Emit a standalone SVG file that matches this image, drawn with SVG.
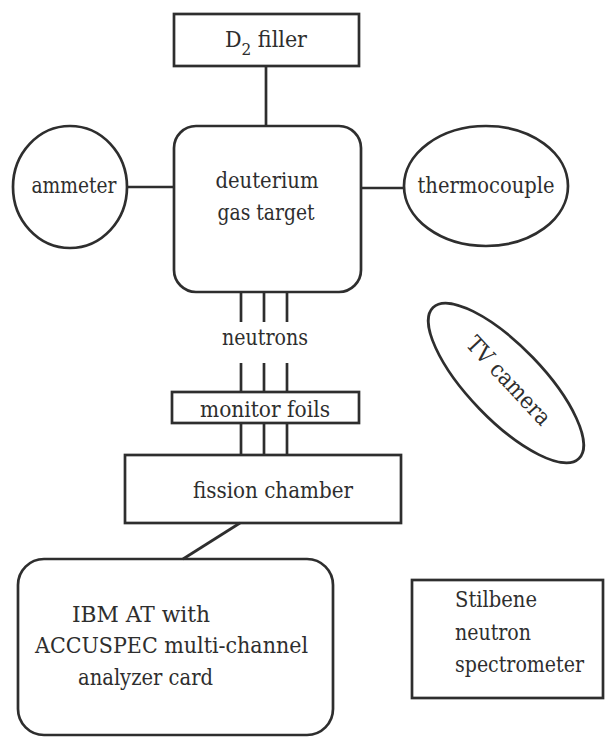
<svg xmlns="http://www.w3.org/2000/svg" width="606" height="738" viewBox="0 0 606 738">
<style>
.s{fill:none;stroke:#2e2e2e;stroke-width:2.7}
.t{font-family:'DejaVu Serif Condensed','DejaVu Serif',serif;font-stretch:condensed;font-size:23px;fill:#2e2e2e}
.m{text-anchor:middle}
</style>
<rect width="606" height="738" fill="#ffffff"/>
<g id="connectors" class="s">
<line x1="266" y1="66" x2="266" y2="126"/>
<line x1="127" y1="187" x2="174" y2="187"/>
<line x1="361" y1="188" x2="405" y2="188"/>
<line x1="241" y1="292" x2="241" y2="322"/>
<line x1="264" y1="292" x2="264" y2="322"/>
<line x1="287" y1="292" x2="287" y2="322"/>
<line x1="241" y1="363" x2="241" y2="392"/>
<line x1="264" y1="363" x2="264" y2="392"/>
<line x1="287" y1="363" x2="287" y2="392"/>
<line x1="241" y1="423" x2="241" y2="455"/>
<line x1="264" y1="423" x2="264" y2="455"/>
<line x1="287" y1="423" x2="287" y2="455"/>
<line x1="240" y1="523" x2="183" y2="559"/>
</g>
<g id="d2filler">
<rect class="s" x="174" y="14" width="185" height="52"/>
<text class="t m" x="266" y="47">D<tspan font-size="17" dy="8">2</tspan><tspan dy="-8"> filler</tspan></text>
</g>
<g id="target">
<rect class="s" x="174" y="126" width="187" height="166" rx="22"/>
<text class="t m" x="267" y="188" textLength="103" lengthAdjust="spacingAndGlyphs">deuterium</text>
<text class="t m" x="266" y="220" textLength="97" lengthAdjust="spacingAndGlyphs">gas target</text>
</g>
<g id="ammeter">
<ellipse class="s" cx="70" cy="187" rx="57" ry="61"/>
<text class="t m" x="74" y="193" textLength="85" lengthAdjust="spacingAndGlyphs">ammeter</text>
</g>
<g id="thermocouple">
<ellipse class="s" cx="486" cy="186" rx="82" ry="60"/>
<text class="t m" x="486" y="193" textLength="137" lengthAdjust="spacingAndGlyphs">thermocouple</text>
</g>
<g id="neutrons">
<text class="t m" x="265" y="345" textLength="86" lengthAdjust="spacingAndGlyphs">neutrons</text>
</g>
<g id="monitor">
<rect class="s" x="172" y="392" width="187" height="31"/>
<text class="t m" x="265" y="417" textLength="130" lengthAdjust="spacingAndGlyphs">monitor foils</text>
</g>
<g id="fission">
<rect class="s" x="125" y="455" width="276" height="68"/>
<text class="t m" x="273" y="498" textLength="160" lengthAdjust="spacingAndGlyphs">fission chamber</text>
</g>
<g id="camera">
<ellipse class="s" cx="506" cy="383" rx="105" ry="37" transform="rotate(46 506 383)"/>
<text class="t m" x="0" y="0" transform="translate(503 386) rotate(47)" textLength="112" lengthAdjust="spacingAndGlyphs">TV camera</text>
</g>
<g id="ibm">
<rect class="s" x="18" y="559" width="315" height="176" rx="26"/>
<text class="t" x="72" y="622" textLength="138" lengthAdjust="spacingAndGlyphs">IBM AT with</text>
<text class="t" x="35" y="653" textLength="273" lengthAdjust="spacingAndGlyphs">ACCUSPEC multi-channel</text>
<text class="t" x="78" y="685" textLength="135" lengthAdjust="spacingAndGlyphs">analyzer card</text>
</g>
<g id="stilbene">
<rect class="s" x="412" y="580" width="191" height="118"/>
<text class="t" x="455" y="607" textLength="82" lengthAdjust="spacingAndGlyphs">Stilbene</text>
<text class="t" x="455" y="640" textLength="76" lengthAdjust="spacingAndGlyphs">neutron</text>
<text class="t" x="455" y="672" textLength="129" lengthAdjust="spacingAndGlyphs">spectrometer</text>
</g>
</svg>
